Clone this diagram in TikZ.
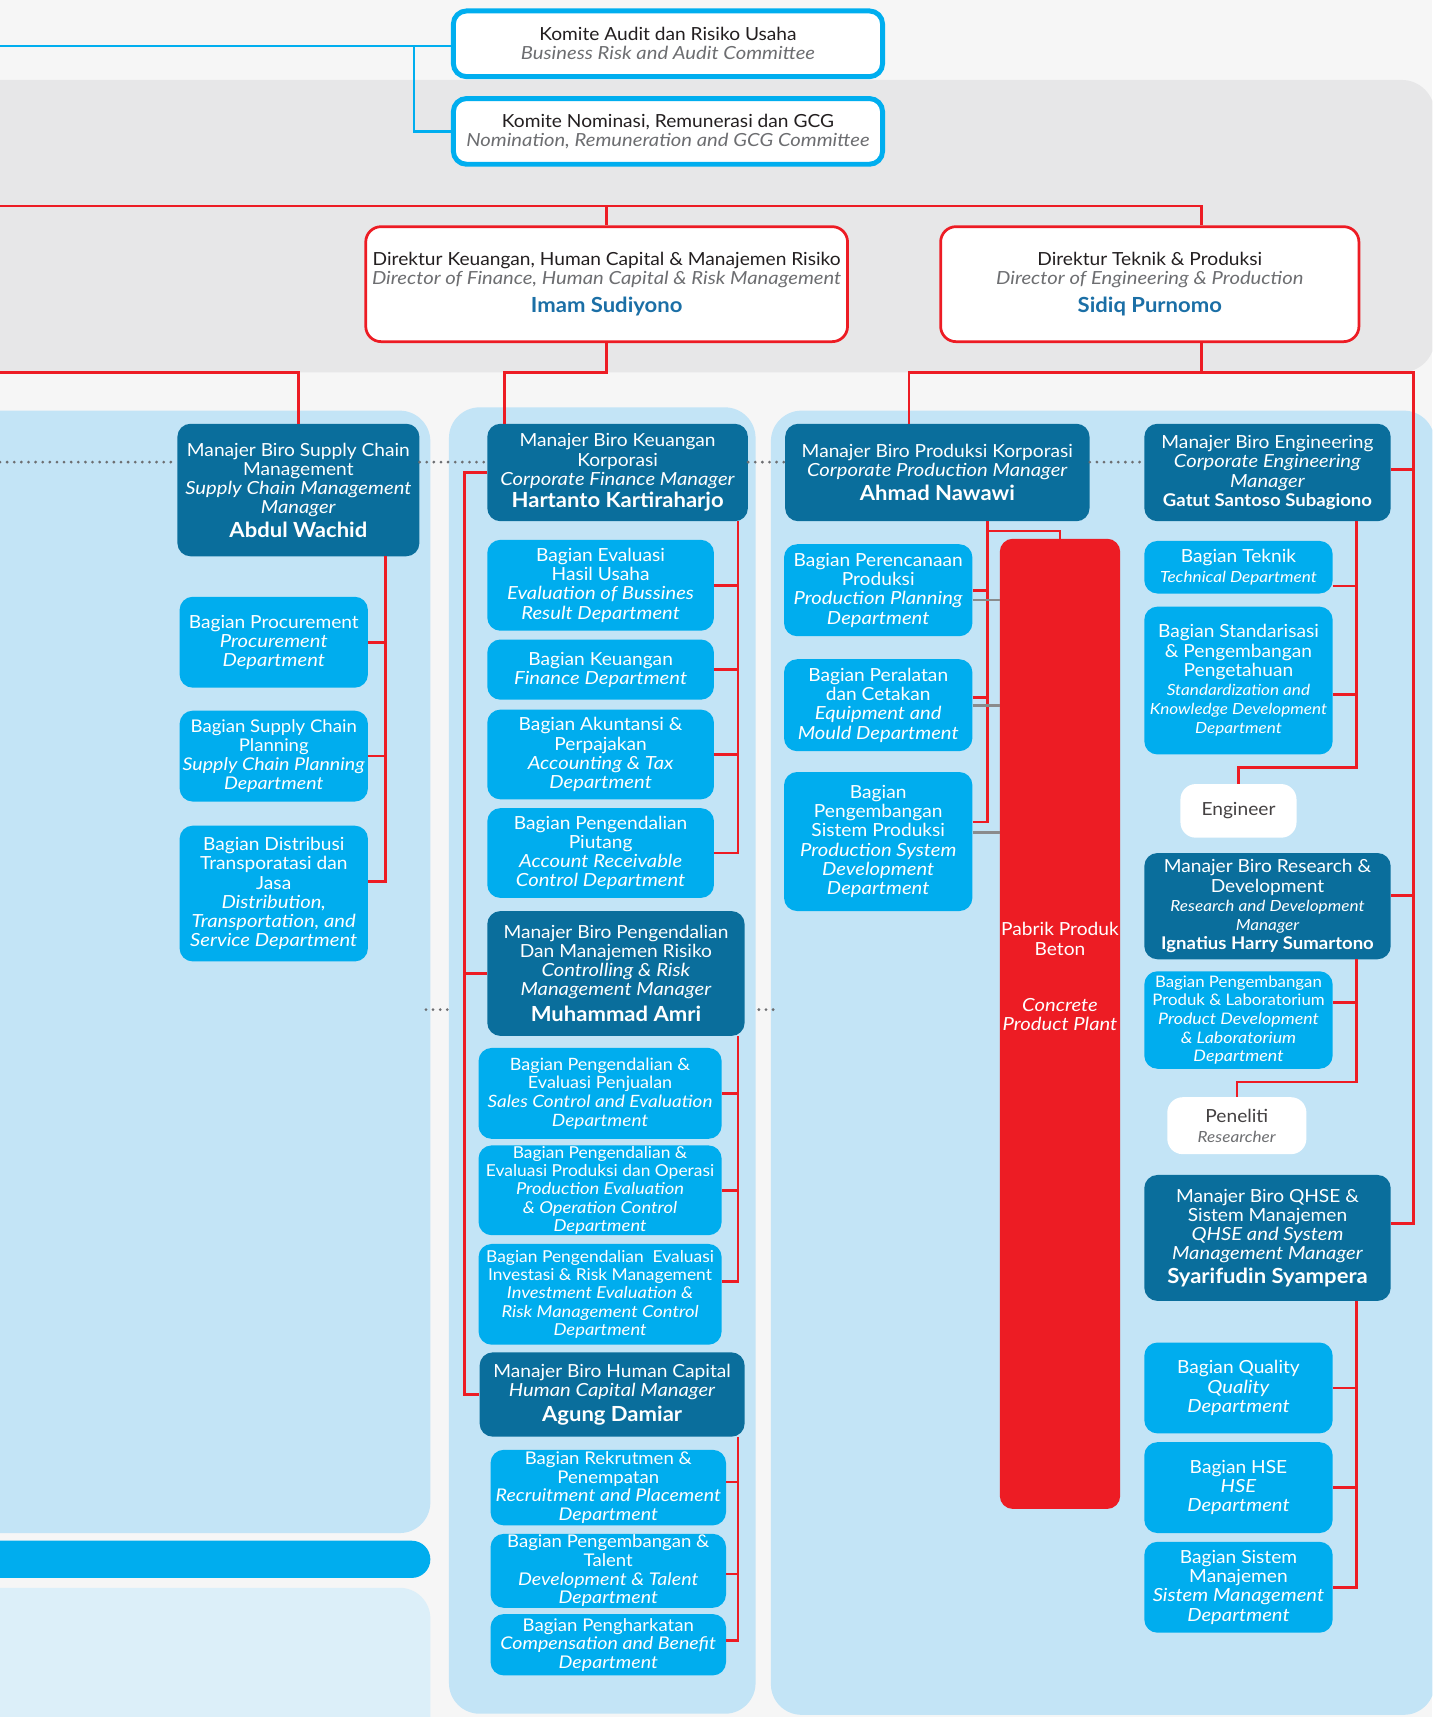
\documentclass[tikz,border=0pt]{standalone}
\usepackage{fontspec}
\setmainfont{Lato}[FakeStretch=1.06, ItalicFeatures={FakeStretch=1.12}]
\usepackage{xcolor}
\usepackage{tikz}

\definecolor{paper}{HTML}{F6F6F6}
\definecolor{bandgrey}{HTML}{E7E7E8}
\definecolor{panelblue}{HTML}{C3E4F6}
\definecolor{panellite}{HTML}{DCEFF9}
\definecolor{deptcyan}{HTML}{00ADEE}
\definecolor{mgrblue}{HTML}{0A6E9C}
\definecolor{linered}{HTML}{ED1C24}
\definecolor{komcyan}{HTML}{00AEEF}
\definecolor{txtdark}{HTML}{231F20}
\definecolor{txtgrey}{HTML}{6D6E71}
\definecolor{nameblue}{HTML}{1B6FA6}
\definecolor{dotgrey}{HTML}{6D6E71}

\newcommand{\nm}[1]{{\fontsize{19}{21}\selectfont\bfseries #1}}
\newcommand{\nmk}[1]{{\fontsize{16}{18}\selectfont\bfseries #1}}
\newcommand{\kecil}{\fontsize{14}{15.5}\selectfont}
\newcommand{\abu}[1]{\textcolor{txtgrey}{\textit{#1}}}

\begin{document}
\begin{tikzpicture}[
        x=1pt, y=-1pt,
        every node/.style={
                font=\fontsize{16.5}{17.5}\selectfont,
                align=center,
                inner sep=1pt,
            },
        komite/.style={fill=white, draw=komcyan, line width=4.5pt, rounded corners=12pt, text=txtdark},
        direktur/.style={fill=white, draw=linered, line width=2.5pt, rounded corners=14pt, text=txtdark},
        manajer/.style={fill=mgrblue, rounded corners=12pt, text=white},
        bagian/.style={fill=deptcyan, rounded corners=12pt, text=white},
        staf/.style={fill=white, rounded corners=14pt, text=txtdark!85},
        redln/.style={draw=linered, line width=2.4pt},
        cyanln/.style={draw=komcyan, line width=2.4pt},
        greyln/.style={draw=dotgrey!80, line width=2.4pt},
        dotln/.style={draw=dotgrey, line width=2.8pt, line cap=round, dash pattern=on 0pt off 6.5pt},
    ]

    \useasboundingbox (0,0) rectangle (1308,1568);
    \clip (0,0) rectangle (1308,1568);

    % background
    \fill[paper] (0,0) rectangle (1308,1568);
    \fill[bandgrey, rounded corners=30pt] (-40,73) rectangle (1310,340);
    \fill[panelblue, rounded corners=28pt] (-40,375) rectangle (393,1400);
    \fill[deptcyan, rounded corners=17pt] (-40,1407) rectangle (393,1441);
    \fill[panellite, rounded corners=28pt] (-40,1450) rectangle (393,1620);
    \fill[panelblue, rounded corners=28pt] (410,372) rectangle (690,1565);
    \fill[panelblue, rounded corners=28pt] (704,375) rectangle (1310,1566);

    % komite
    \node[komite, minimum width=392, minimum height=60] (kaudit) at (610,40)
        {Komite Audit dan Risiko Usaha\\\abu{Business Risk and Audit Committee}};
    \node[komite, minimum width=392, minimum height=60] (knom) at (610,120)
        {Komite Nominasi, Remunerasi dan GCG\\\abu{Nomination, Remuneration and GCG Committee}};

    % direksi
    \node[direktur, minimum width=440, minimum height=105] (dirku) at (554,259.5)
        {Direktur Keuangan, Human Capital \& Manajemen Risiko\\
         \abu{Director of Finance, Human Capital \& Risk Management}\\[8pt]
         \textcolor{nameblue}{\nm{Imam Sudiyono}}};
    \node[direktur, minimum width=382, minimum height=105] (dirtp) at (1050,259.5)
        {Direktur Teknik \& Produksi\\
         \abu{Director of Engineering \& Production}\\[8pt]
         \textcolor{nameblue}{\nm{Sidiq Purnomo}}};

    % supply chain
    \node[manajer, minimum width=221, minimum height=121] (scm) at (272.5,447.5)
        {Manajer Biro Supply Chain\\Management\\\textit{Supply Chain Management}\\\textit{Manager}\\[4pt]\nm{Abdul Wachid}};
    \node[bagian, minimum width=172, minimum height=83] (proc) at (250,586.5)
        {Bagian Procurement\\\textit{Procurement}\\\textit{Department}};
    \node[bagian, minimum width=172, minimum height=83, font=\fontsize{16}{17.5}\selectfont] (scp) at (250,690.5)
        {Bagian Supply Chain\\Planning\\\textit{Supply Chain Planning}\\\textit{Department}};
    \node[bagian, minimum width=172, minimum height=124] (dist) at (250,816)
        {Bagian Distribusi\\Transporatasi dan\\Jasa\\\textit{Distribution,}\\\textit{Transportation, and}\\\textit{Service Department}};

    % keuangan
    \node[manajer, minimum width=238, minimum height=89] (kum) at (564,431.5)
        {Manajer Biro Keuangan\\Korporasi\\\textit{Corporate Finance Manager}\\[3pt]\nm{Hartanto Kartiraharjo}};
    \node[bagian, minimum width=207, minimum height=83] (evh) at (548.5,534.5)
        {Bagian Evaluasi\\Hasil Usaha\\\textit{Evaluation of Bussines}\\\textit{Result Department}};
    \node[bagian, minimum width=207, minimum height=55] (keu) at (548.5,611.5)
        {Bagian Keuangan\\\textit{Finance Department}};
    \node[bagian, minimum width=207, minimum height=82] (akt) at (548.5,689)
        {Bagian Akuntansi \&\\Perpajakan\\\textit{Accounting \& Tax}\\\textit{Department}};
    \node[bagian, minimum width=207, minimum height=82] (piut) at (548.5,779)
        {Bagian Pengendalian\\Piutang\\\textit{Account Receivable}\\\textit{Control Department}};

    % pengendalian
    \node[manajer, minimum width=235, minimum height=114] (pgm) at (562.5,889)
        {Manajer Biro Pengendalian\\Dan Manajemen Risiko\\\textit{Controlling \& Risk}\\\textit{Management Manager}\\[6pt]\nm{Muhammad Amri}};
    \node[bagian, minimum width=222, minimum height=83, font=\fontsize{15.5}{17}\selectfont] (sales) at (548,998.5)
        {Bagian Pengendalian \&\\Evaluasi Penjualan\\\textit{Sales Control and Evaluation}\\\textit{Department}};
    \node[bagian, minimum width=222, minimum height=82, font=\fontsize{15}{16.5}\selectfont] (pev) at (548,1087)
        {Bagian Pengendalian \&\\Evaluasi Produksi dan Operasi\\\textit{Production Evaluation}\\\textit{\& Operation Control}\\\textit{Department}};
    \node[bagian, minimum width=222, minimum height=92, font=\fontsize{15}{16.5}\selectfont] (inv) at (548,1182)
        {Bagian Pengendalian\ \ Evaluasi\\Investasi \& Risk Management\\\textit{Investment Evaluation \&}\\\textit{Risk Management Control}\\\textit{Department}};

    % human capital
    \node[manajer, minimum width=242, minimum height=77] (hcm) at (559,1273.5)
        {Manajer Biro Human Capital\\\textit{Human Capital Manager}\\[5pt]\nm{Agung Damiar}};
    \node[bagian, minimum width=215, minimum height=69, font=\fontsize{16}{17}\selectfont] (rek) at (555.5,1358.5)
        {Bagian Rekrutmen \&\\Penempatan\\\textit{Recruitment and Placement}\\\textit{Department}};
    \node[bagian, minimum width=215, minimum height=67, font=\fontsize{16}{17}\selectfont] (pdt) at (555.5,1434.5)
        {Bagian Pengembangan \&\\Talent\\\textit{Development \& Talent}\\\textit{Department}};
    \node[bagian, minimum width=215, minimum height=56, font=\fontsize{16}{17}\selectfont] (phk) at (555.5,1502)
        {Bagian Pengharkatan\\\textit{Compensation and Benefit}\\\textit{Department}};

    % produksi
    \node[manajer, minimum width=278, minimum height=89] (prm) at (856,431.5)
        {Manajer Biro Produksi Korporasi\\\textit{Corporate Production Manager}\\[5pt]\nm{Ahmad Nawawi}};
    \node[bagian, minimum width=172, minimum height=84] (per) at (802,539)
        {Bagian Perencanaan\\Produksi\\\textit{Production Planning}\\\textit{Department}};
    \node[bagian, minimum width=172, minimum height=84] (pcl) at (802,644)
        {Bagian Peralatan\\dan Cetakan\\\textit{Equipment and}\\\textit{Mould Department}};
    \node[bagian, minimum width=172, minimum height=127] (psp) at (802,768.5)
        {Bagian\\Pengembangan\\Sistem Produksi\\\textit{Production System}\\\textit{Development}\\\textit{Department}};
    \node[fill=linered, rounded corners=12pt, minimum width=110, minimum height=886] (pab) at (968,935) {};
    \node[text=white] (pabtxt) at (968,892)
        {Pabrik Produk\\Beton\\[34pt]\textit{Concrete}\\\textit{Product Plant}};

    % engineering
    \node[manajer, minimum width=225, minimum height=89] (engm) at (1157.5,431.5)
        {Manajer Biro Engineering\\\textit{Corporate Engineering}\\\textit{Manager}\\\nmk{Gatut Santoso Subagiono}};
    \node[bagian, minimum width=172, minimum height=48] (tek) at (1131,518)
        {Bagian Teknik\\{\kecil\itshape Technical Department}};
    \node[bagian, minimum width=172, minimum height=135] (std) at (1131,621.5)
        {Bagian Standarisasi\\\& Pengembangan\\Pengetahuan\\{\kecil\itshape Standardization and}\\{\kecil\itshape Knowledge Development}\\{\kecil\itshape Department}};
    \node[staf, minimum width=106, minimum height=49] (engr) at (1131,740.5) {Engineer};

    % research
    \node[manajer, minimum width=225, minimum height=97] (rdm) at (1157.5,827.5)
        {Manajer Biro Research \&\\Development\\{\kecil\itshape Research and Development}\\{\kecil\itshape Manager}\\\nmk{Ignatius Harry Sumartono}};
    \node[bagian, minimum width=172, minimum height=89, font=\fontsize{14.5}{17}\selectfont] (pdl) at (1131,931.5)
        {Bagian Pengembangan\\Produk \& Laboratorium\\\textit{Product Development}\\\textit{\& Laboratorium}\\\textit{Department}};
    \node[staf, minimum width=127, minimum height=52] (pnl) at (1129.5,1028)
        {Peneliti\\[1pt]{\kecil\abu{Researcher}}};

    % qhse
    \node[manajer, minimum width=225, minimum height=115] (qhm) at (1157.5,1130.5)
        {Manajer Biro QHSE \&\\Sistem Manajemen\\\textit{QHSE and System}\\\textit{Management Manager}\\[4pt]\nm{Syarifudin Syampera}};
    \node[bagian, minimum width=172, minimum height=83] (qual) at (1131,1267.5)
        {Bagian Quality\\\textit{Quality}\\\textit{Department}};
    \node[bagian, minimum width=172, minimum height=83] (hse) at (1131,1358.5)
        {Bagian HSE\\\textit{HSE}\\\textit{Department}};
    \node[bagian, minimum width=172, minimum height=83] (sism) at (1131,1449.5)
        {Bagian Sistem\\Manajemen\\\textit{Sistem Management}\\\textit{Department}};

    % bus coordinates
    \coordinate (komin) at (0,42);
    \coordinate (kombus) at (378,0);
    \coordinate (dirin) at (0,188);
    \coordinate (lvl2) at (0,340);
    \coordinate (tpbus) at (1097,0);
    \coordinate (kubus) at (461,0);
    \coordinate (prbus) at (830,0);
    \coordinate (rtbus) at (1291,0);
    \coordinate (scbus) at (352,0);
    \coordinate (mdbus) at (424,0);
    \coordinate (mrbus) at (674,0);
    \coordinate (pdbus) at (902,0);
    \coordinate (pabjoin) at (902,485);
    \coordinate (enbus) at (1239,0);
    \coordinate (engjoin) at (1239,701);
    \coordinate (rdjoin) at (1239,988);
    \coordinate (dotin) at (0,422);
    \coordinate (dotkl) at (389,922);
    \coordinate (dotkr) at (706,922);

    % komite lines
    \draw[cyanln] (komin) -- (komin -| kaudit.west);
    \draw[cyanln] (kombus |- komin) |- (knom.west);

    % direksi lines
    \draw[redln] (dirin) -| (tpbus |- dirtp.north);
    \draw[redln] (dirin -| dirku.north) -- (dirku.north);
    \draw[redln] (lvl2) -| (scm.north);
    \draw[redln] (dirku.south) -- (dirku.south |- lvl2) -| (kubus |- kum.north);
    \draw[redln] (tpbus |- dirtp.south) -- (tpbus |- lvl2) -| (prbus |- prm.north);
    \draw[redln] (tpbus |- lvl2) -| ([yshift=13pt]rtbus |- qhm.east) -- ([yshift=13pt]qhm.east);
    \draw[redln] ([yshift=3pt]engm.east) -- ([yshift=3pt]engm.east -| rtbus);
    \draw[redln] ([yshift=10pt]rdm.east) -- ([yshift=10pt]rdm.east -| rtbus);

    % supply chain
    \draw[redln] (scm.south -| scbus) |- ([yshift=11pt]dist.east);
    \foreach \n in {proc,scp}{
            \draw[redln] (\n.east) -- (\n.east -| scbus);
        }

    % keuangan, pengendalian, human capital
    \draw[redln] (kum.west) -| (mdbus |- hcm.west) -- (hcm.west);
    \draw[redln] (pgm.west) -- (pgm.west -| mdbus);
    \draw[redln] (kum.south -| mrbus) |- (piut.east);
    \foreach \n in {evh,keu,akt}{
            \draw[redln] (\n.east) -- (\n.east -| mrbus);
        }
    \draw[redln] (pgm.south -| mrbus) |- ([yshift=12pt]inv.east);
    \foreach \n in {sales,pev}{
            \draw[redln] (\n.east) -- (\n.east -| mrbus);
        }
    \draw[redln] (hcm.south -| mrbus) |- ([yshift=4pt]phk.east);
    \foreach \n/\s in {rek/5,pdt/-3}{
            \draw[redln] ([yshift=\s pt]\n.east) -- ([yshift=\s pt]\n.east -| mrbus);
        }

    % produksi
    \draw[redln] (prm.south -| pdbus) |- ([yshift=18pt]psp.east);
    \foreach \n/\s in {per/0,pcl/7}{
            \draw[redln] ([yshift=\s pt]\n.east) -- ([yshift=\s pt]\n.east -| pdbus);
        }
    \draw[redln] (pab.north) |- (pabjoin);
    \foreach \n/\s in {per/-9,pcl/0,psp/8}{
            \draw[greyln] ([yshift=\s pt]\n.east) -- ([yshift=\s pt]\n.east -| pab.west);
        }

    % engineering, research, qhse
    \draw[redln] (engm.south -| enbus) -- (engjoin) -| (engr.north);
    \foreach \n/\s in {tek/-17,std/-13}{
            \draw[redln] ([yshift=\s pt]\n.east) -- ([yshift=\s pt]\n.east -| enbus);
        }
    \draw[redln] (rdm.south -| enbus) -- (rdjoin) -| (pnl.north);
    \draw[redln] ([yshift=16pt]pdl.east) -- ([yshift=16pt]pdl.east -| enbus);
    \draw[redln] (qhm.south -| enbus) |- (sism.east);
    \foreach \n in {qual,hse}{
            \draw[redln] (\n.east) -- (\n.east -| enbus);
        }

    % dotted links
    \draw[dotln] (dotin) -- (dotin -| scm.west);
    \draw[dotln] (scm.east |- dotin) -- (kum.west |- dotin);
    \draw[dotln] (kum.east |- dotin) -- (prm.west |- dotin);
    \draw[dotln] (prm.east |- dotin) -- (engm.west |- dotin);
    \draw[dotln] (dotkl) -- ++(21,0);
    \draw[dotln] (dotkr) -- ++(-16,0);

\end{tikzpicture}
\end{document}
